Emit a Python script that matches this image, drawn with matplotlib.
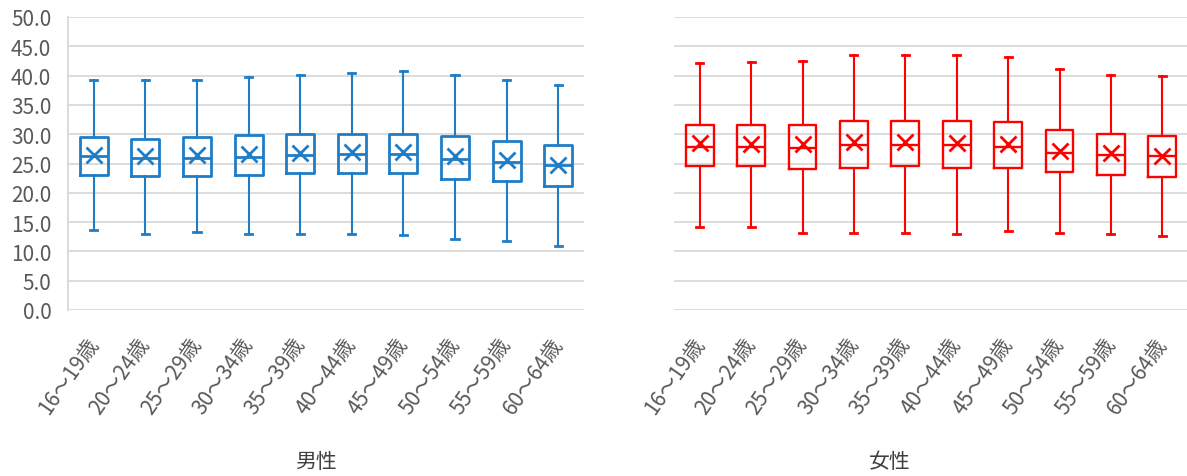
import matplotlib
matplotlib.use('Agg')
import matplotlib.pyplot as plt
import numpy as np

plt.rcParams['font.family'] = ['Noto Sans CJK JP', 'DejaVu Sans']

ages = ['16～19歳', '20～24歳', '25～29歳', '30～34歳', '35～39歳',
        '40～44歳', '45～49歳', '50～54歳', '55～59歳', '60～64歳']

# 男性
male_hi = [39.2, 39.2, 39.2, 39.7, 40.1, 40.4, 40.7, 40.1, 39.2, 38.4]
male_q3 = [29.5, 29.2, 29.5, 29.9, 30.1, 30.1, 30.1, 29.7, 28.8, 28.1]
male_med = [26.2, 25.9, 25.9, 26.1, 26.4, 26.6, 26.6, 25.7, 25.3, 24.7]
male_q1 = [23.1, 22.8, 22.8, 23.1, 23.3, 23.3, 23.3, 22.4, 22.0, 21.1]
male_lo = [13.7, 13.0, 13.3, 13.0, 13.0, 13.0, 12.8, 12.1, 11.7, 11.0]
male_mean = [26.4, 26.2, 26.4, 26.7, 26.8, 26.9, 26.9, 26.3, 25.6, 24.8]

# 女性
female_hi = [42.1, 42.3, 42.5, 43.6, 43.6, 43.6, 43.2, 41.2, 40.1, 39.9]
female_q3 = [31.6, 31.6, 31.6, 32.3, 32.3, 32.3, 32.1, 30.7, 30.1, 29.7]
female_med = [27.9, 27.9, 27.6, 28.1, 28.1, 28.1, 27.9, 26.8, 26.4, 26.3]
female_q1 = [24.5, 24.5, 24.0, 24.3, 24.5, 24.3, 24.3, 23.5, 23.0, 22.7]
female_lo = [14.1, 14.1, 13.2, 13.2, 13.2, 12.9, 13.4, 13.2, 12.9, 12.7]
female_mean = [28.5, 28.3, 28.3, 28.6, 28.7, 28.5, 28.3, 27.2, 26.8, 26.3]


def makeStats(lo, q1, med, q3, hi, mean):
    stats = []
    for i in range(len(lo)):
        stats.append({'whislo': lo[i], 'q1': q1[i], 'med': med[i], 'q3': q3[i],
                      'whishi': hi[i], 'mean': mean[i], 'fliers': []})
    return stats


def drawPanel(ax, stats, color, lw):
    pos = np.arange(len(stats))
    ax.bxp(stats, positions=pos, widths=0.54, showmeans=True, showfliers=False,
           capwidths=0.14,
           boxprops=dict(color=color, linewidth=lw),
           medianprops=dict(color=color, linewidth=lw),
           whiskerprops=dict(color=color, linewidth=1.5),
           capprops=dict(color=color, linewidth=2.0),
           meanprops=dict(marker='x', markeredgecolor=color, markersize=11,
                          markeredgewidth=2.0),
           zorder=3)
    ax.set_xlim(-0.5, len(stats) - 0.5)
    ax.set_ylim(0, 50)
    ax.set_yticks(np.arange(0, 50.1, 5))
    ax.grid(axis='y', color='#d9d9d9', linewidth=1.3, zorder=0)
    ax.set_axisbelow(True)
    for s in ['top', 'right', 'bottom']:
        ax.spines[s].set_visible(False)
    ax.set_xticks(pos)
    ax.set_xticklabels(ages, rotation=55, ha='right', va='center',
                       rotation_mode='anchor', fontsize=15, color='#595959')
    ax.tick_params(axis='x', length=0, pad=21)


fig = plt.figure(figsize=(11.87, 4.77), dpi=100)
ax1 = fig.add_axes([68 / 1187, 166 / 477, 516 / 1187, 293 / 477])
ax2 = fig.add_axes([674 / 1187, 166 / 477, 514 / 1187, 293 / 477])

drawPanel(ax1, makeStats(male_lo, male_q1, male_med, male_q3, male_hi, male_mean),
          '#1f7dc6', 2.0)
drawPanel(ax2, makeStats(female_lo, female_q1, female_med, female_q3, female_hi, female_mean),
          '#ff0000', 1.7)

ax1.spines['left'].set_color('#d9d9d9')
ax1.spines['left'].set_linewidth(1.3)
ax1.set_yticklabels(['%.1f' % v for v in np.arange(0, 50.1, 5)], fontsize=15, color='#595959')
ax1.tick_params(axis='y', length=0, pad=12)

ax2.spines['left'].set_visible(False)
ax2.tick_params(axis='y', length=0, labelleft=False)

fig.text(316 / 1187, 1 - 462 / 477, '男性', ha='center', va='center', fontsize=15, color='#404040')
fig.text(890 / 1187, 1 - 462 / 477, '女性', ha='center', va='center', fontsize=15, color='#404040')

fig.savefig('out.png', dpi=100)
